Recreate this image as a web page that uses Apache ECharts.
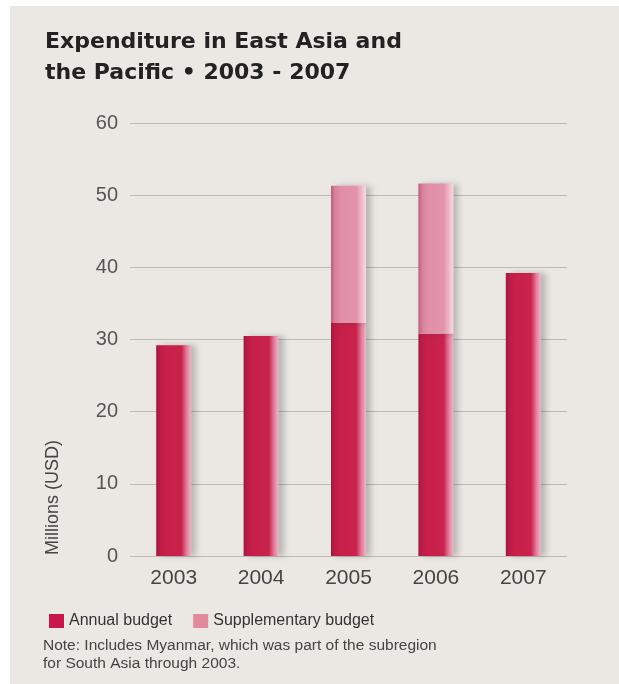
<!DOCTYPE html>
<html>
<head>
<meta charset="utf-8">
<style>
html,body{margin:0;padding:0;background:#ffffff;}
#chart{width:619px;height:684px;}
</style>
<script src="https://cdn.jsdelivr.net/npm/echarts@6/dist/echarts.min.js"></script>
</head>
<body>
<div id="chart"></div>
<script>
var categories = ['2003', '2004', '2005', '2006', '2007'];
var annualBudget = [29.2, 30.5, 32.3, 30.8, 39.2];
var supplementaryBudget = ['-', '-', 19.0, 20.8, '-'];
var yTicks = [0, 10, 20, 30, 40, 50, 60];
var seriesNames = ['Annual budget', 'Supplementary budget'];
var titleLines = ['Expenditure in East Asia and', 'the Pacific \u2022 2003 - 2007'];
var noteLines = ['Note: Includes Myanmar, which was part of the subregion', 'for South Asia through 2003.'];
var yAxisTitle = 'Millions (USD)';

var chart = echarts.init(document.getElementById('chart'), null, {renderer: 'canvas'});

function hGrad(stops) {
  return new echarts.graphic.LinearGradient(0, 0, 1, 0, stops.map(function (s) { return {offset: s[0], color: s[1]}; }));
}
var annualColor = hGrad([[0, '#9c1c3c'], [0.12, '#bd1d47'], [0.3, '#c8204b'], [0.72, '#c9224d'], [0.86, '#e27696'], [1, '#efb7c7']]);
var suppColor = hGrad([[0, '#b9607f'], [0.12, '#d9829d'], [0.3, '#e190a8'], [0.72, '#e293aa'], [0.86, '#efb5c6'], [1, '#f6dbe3']]);

var option = {
  animation: false,
  backgroundColor: '#ffffff',
  textStyle: {fontFamily: 'Liberation Sans, Arial, sans-serif'},
  graphic: [
    {type: 'rect', z: -10, shape: {x: 10, y: 6, width: 609, height: 678}, style: {fill: '#ebe8e4'}},
    {type: 'text', left: 45, top: 31, style: {text: titleLines[0], font: 'bold 22px "DejaVu Sans", sans-serif', fill: '#222222'}},
    {type: 'text', left: 45, top: 62, style: {text: titleLines[1], font: 'bold 22px "DejaVu Sans", sans-serif', fill: '#222222'}},
    {type: 'text', x: 62, y: 555, rotation: Math.PI / 2, style: {text: yAxisTitle, font: '18px "Liberation Sans", Arial, sans-serif', fill: '#444444', textAlign: 'left', textVerticalAlign: 'bottom'}},
    {type: 'text', left: 43, top: 638, style: {text: noteLines[0], font: '15.5px "Liberation Sans", Arial, sans-serif', fill: '#444444'}},
    {type: 'text', left: 43, top: 656, style: {text: noteLines[1], font: '15.5px "Liberation Sans", Arial, sans-serif', fill: '#444444'}}
  ],
  legend: {
    left: 44, top: 608,
    icon: 'rect',
    itemWidth: 15, itemHeight: 14, itemGap: 21,
    textStyle: {fontSize: 16, color: '#333333', fontFamily: 'Liberation Sans, Arial, sans-serif'},
    data: [
      {name: seriesNames[0], itemStyle: {color: '#c8174a'}},
      {name: seriesNames[1], itemStyle: {color: '#e08a9c'}}
    ],
    selectedMode: false
  },
  grid: {left: 130, right: 52, top: 123, bottom: 128},
  xAxis: {
    type: 'category',
    data: categories,
    axisLine: {show: false},
    axisTick: {show: false},
    axisLabel: {fontSize: 21, color: '#444444', margin: 12, fontFamily: 'Liberation Sans, Arial, sans-serif'}
  },
  yAxis: {
    type: 'value',
    min: yTicks[0], max: yTicks[yTicks.length - 1], interval: 10,
    axisLine: {show: false},
    axisTick: {show: false},
    axisLabel: {fontSize: 20, color: '#555555', margin: 12, fontFamily: 'Liberation Sans, Arial, sans-serif'},
    splitLine: {lineStyle: {color: '#bfb8b3', width: 1.2}}
  },
  series: [
    {
      name: seriesNames[0], type: 'bar', stack: 'total', barWidth: 35,
      data: annualBudget,
      itemStyle: {color: annualColor, shadowColor: 'rgba(60,50,50,0.28)', shadowBlur: 6, shadowOffsetX: 5, shadowOffsetY: 0}
    },
    {
      name: seriesNames[1], type: 'bar', stack: 'total', barWidth: 35,
      data: supplementaryBudget,
      itemStyle: {color: suppColor, shadowColor: 'rgba(60,50,50,0.28)', shadowBlur: 6, shadowOffsetX: 5, shadowOffsetY: 0}
    }
  ]
};
chart.setOption(option);
</script>
</body>
</html>
